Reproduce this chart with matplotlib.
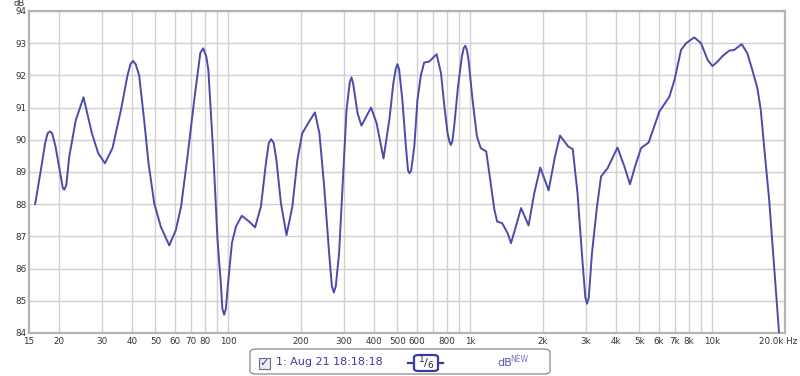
import numpy as np
import matplotlib
matplotlib.use("Agg")
import matplotlib.pyplot as plt
from matplotlib.patches import FancyBboxPatch, Rectangle

# ---- data (frequency in Hz, SPL in dB) ----
freq_hz = [15.9, 16.8, 17.5, 17.9, 18.3, 18.7, 19.3, 20.3, 20.7, 21.0, 21.4, 22.0, 23.4, 25.2,
           27.3, 29.0, 30.9, 33.2, 36.0, 38.3, 39.4, 40.4, 41.4, 42.8, 44.9, 46.8, 49.4,
           52.6, 57.0, 60.7, 63.8, 67.8, 72.3, 76.6, 78.7, 81.0, 82.7, 86.8, 90.2, 93.1,
           94.5, 96.1, 97.7, 99.2, 103.5, 107.6, 113.7, 122, 129, 136.4, 143, 147, 150.4,
           154, 158, 165, 174, 184, 193, 202, 216, 228, 238, 249, 261, 268, 273, 278, 287,
           298, 308, 318, 323, 328, 342, 355, 389, 410, 438, 463, 481, 492, 500, 508, 524,
           542, 553, 561, 570, 587, 605, 625, 645, 677, 726, 757, 782, 806, 820, 831, 843,
           858, 890, 923, 940, 954, 968, 984, 1022, 1066, 1105, 1164, 1199, 1258, 1292,
           1355, 1427, 1474, 1544, 1622, 1742, 1839, 1947, 2108, 2240, 2350, 2542, 2653,
           2776, 2900, 2990, 3038, 3090, 3185, 3342, 3473, 3697, 4060, 4337, 4573, 4798,
           5080, 5466, 6052, 6655, 6985, 7436, 7800, 8441, 8993, 9577, 10030, 10530, 11037,
           11760, 12330, 13250, 13970, 14650, 15380, 15880, 16540, 17200, 18030, 18900]
spl_db = [88.0, 89.07, 89.9, 90.2, 90.26, 90.2, 89.8, 88.86, 88.5, 88.45, 88.6, 89.48, 90.6, 91.32,
          90.2, 89.58, 89.27, 89.74, 90.93, 92.0, 92.35, 92.45, 92.35, 92.0, 90.6, 89.27, 88.03,
          87.3, 86.72, 87.2, 87.93, 89.48, 91.24, 92.7, 92.84, 92.6, 92.17, 89.48, 86.9, 85.55,
          84.75, 84.57, 84.75, 85.35, 86.8, 87.31, 87.64, 87.46, 87.28, 87.93, 89.27, 89.9, 90.02,
          89.9, 89.38, 88.03, 87.04, 87.93, 89.38, 90.2, 90.57, 90.85, 90.2, 88.55, 86.48, 85.45, 85.26, 85.45, 86.48,
          88.86, 90.93, 91.8, 91.94, 91.75, 90.83, 90.44, 91.0, 90.52, 89.42, 90.62, 91.76, 92.2, 92.35, 92.2, 91.24,
          89.79, 89.05, 88.96, 89.05, 89.79, 91.24, 92.0, 92.4, 92.43, 92.66, 92.07, 91.03, 90.2, 89.95, 89.84, 89.95,
          90.41, 91.65, 92.58, 92.85, 92.92, 92.8, 92.48, 91.24, 90.1, 89.74, 89.64, 88.96, 87.83, 87.46,
          87.41, 87.1, 86.79, 87.31, 87.88, 87.34, 88.34, 89.14, 88.43, 89.48, 90.13, 89.79, 89.71,
          88.34, 86.38, 85.1, 84.91, 85.1, 86.48, 87.93, 88.86, 89.12, 89.76, 89.17, 88.62, 89.17,
          89.74, 89.92, 90.88, 91.34, 91.86, 92.79, 93.0, 93.18, 93.0, 92.48, 92.29, 92.43, 92.6,
          92.77, 92.79, 92.97, 92.69, 92.17, 91.6, 90.93, 89.48, 88.14, 86.07, 84.0]

grid_freqs = [20, 30, 40, 50, 60, 70, 80, 90, 100, 200, 300, 400, 500, 600, 700, 800, 900,
              1000, 2000, 3000, 4000, 5000, 6000, 7000, 8000, 9000, 10000]
tick_freqs = [15, 20, 30, 40, 50, 60, 70, 80, 100, 200, 300, 400, 500, 600, 800,
              1000, 2000, 3000, 4000, 5000, 6000, 7000, 8000, 10000]
tick_labels = ["15", "20", "30", "40", "50", "60", "70", "80", "100", "200", "300", "400",
               "500", "600", "800", "1k", "2k", "3k", "4k", "5k", "6k", "7k", "8k", "10k"]
y_ticks = [84, 85, 86, 87, 88, 89, 90, 91, 92, 93, 94]

W, H = 800, 376
fig = plt.figure(figsize=(W / 100, H / 100), dpi=100)
fig.patch.set_facecolor("white")

x0, x1, ytop, ybot = 29, 785, 11, 333
ax = fig.add_axes([x0 / W, 1 - ybot / H, (x1 - x0) / W, (ybot - ytop) / H])
ax.set_xscale("log")
ax.set_xlim(15, 20000)
ax.set_ylim(84, 94)

for f in grid_freqs:
    ax.axvline(f, color="#d0d0d0", lw=1.0, zorder=0)
for v in y_ticks:
    ax.axhline(v, color="#d0d0d0", lw=1.0, zorder=0)

ax.plot(freq_hz, spl_db, color="#4b4bab", lw=1.4, zorder=3, clip_on=True,
        solid_joinstyle="round", antialiased=True)

ax.xaxis.set_minor_locator(matplotlib.ticker.NullLocator())
ax.set_xticks(tick_freqs)
ax.set_xticklabels(tick_labels)
ax.set_yticks(y_ticks)
ax.set_yticklabels([str(v) for v in y_ticks])
ax.tick_params(axis="both", length=0, labelsize=6.3, colors="#333333", pad=2)
ax.tick_params(axis="x", pad=3)
for s in ax.spines.values():
    s.set_color("#b4b4b4")
    s.set_linewidth(1.6)

fig.text(13 / W, 1 - 3.5 / H, "dB", fontsize=6, color="#333333", ha="left", va="center")
fig.text(797 / W, 1 - 341 / H, "20.0k Hz", fontsize=6.3, color="#333333", ha="right", va="center")

# legend box at bottom
lb = FancyBboxPatch((250 / W, 1 - 374 / H), 300 / W, 25 / H,
                    boxstyle="round,pad=0,rounding_size=0.008",
                    transform=fig.transFigure, facecolor="white",
                    edgecolor="#8a8a8a", lw=0.9, zorder=1)
fig.patches.append(lb)
cb = Rectangle((259 / W, 1 - 369 / H), 11 / W, 11 / H, transform=fig.transFigure,
               facecolor="#e8eaf4", edgecolor="#6a6a8a", lw=0.8, zorder=2)
fig.patches.append(cb)
fig.text(264.5 / W, 1 - 363 / H, "\u2713", fontsize=8, color="#2a3a9a",
         ha="center", va="center", fontweight="bold", zorder=5)
fig.text(276 / W, 1 - 362 / H, "1: Aug 21 18:18:18", fontsize=8, color="#3a3aa0",
         ha="left", va="center", zorder=5)
# 1/6 smoothing control
fig.lines.append(plt.Line2D([408 / W, 443 / W], [1 - 363 / H, 1 - 363 / H],
                            transform=fig.transFigure, color="#3a3aa0", lw=1.6, zorder=2))
sb = FancyBboxPatch((414 / W, 1 - 371 / H), 24 / W, 16 / H,
                    boxstyle="round,pad=0,rounding_size=0.006",
                    transform=fig.transFigure, facecolor="white",
                    edgecolor="#3a3aa0", lw=1.6, zorder=3)
fig.patches.append(sb)
fig.text(421.5 / W, 1 - 360 / H, "1", fontsize=6.5, color="#222244", ha="center", va="center", zorder=5)
fig.text(426 / W, 1 - 363 / H, "/", fontsize=8, color="#222244", ha="center", va="center", zorder=5)
fig.text(430.5 / W, 1 - 365.5 / H, "6", fontsize=6.5, color="#222244", ha="center", va="center", zorder=5)
fig.text(497 / W, 1 - 363 / H, "dB", fontsize=8, color="#5555b0", ha="left", va="center", zorder=5)
fig.text(510 / W, 1 - 359 / H, "NEW", fontsize=5.5, color="#7777c8", ha="left", va="center", zorder=5)

fig.savefig("out.png", dpi=100, facecolor="white")
